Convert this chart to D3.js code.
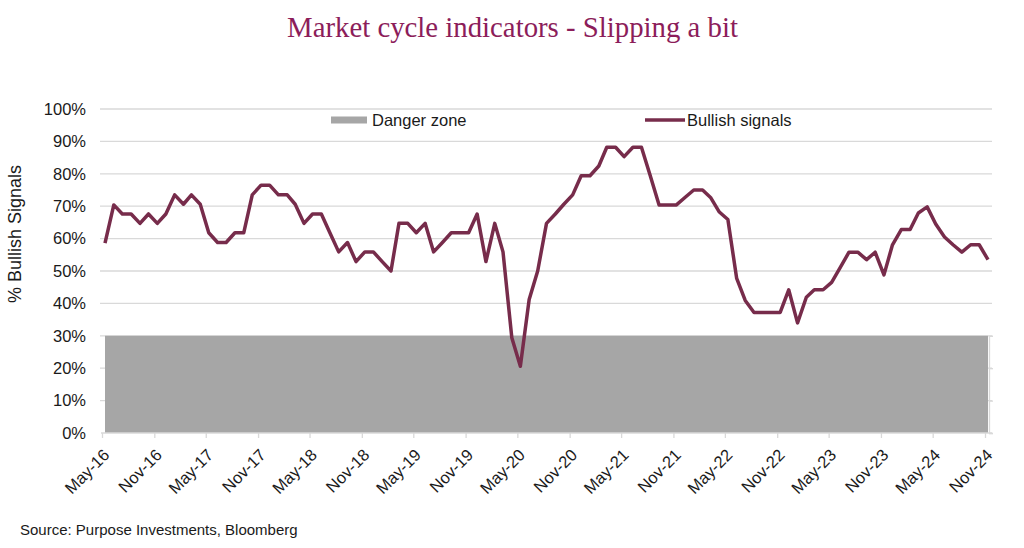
<!DOCTYPE html>
<html>
<head>
<meta charset="utf-8">
<script src="https://cdn.jsdelivr.net/npm/d3@7"></script>
<style>
  html, body { margin: 0; padding: 0; background: #ffffff; }
  svg { display: block; }
</style>
</head>
<body>
<svg id="chart" width="1024" height="548"></svg>
<script>
// ---- Data ----
const startMonth = "2016-05"; // first monthly observation (May-16)
const bullishSignals = [
  58.6, 70.4, 67.6, 67.6, 64.7, 67.6, 64.7, 67.6, 73.5, 70.6,
  73.5, 70.6, 61.8, 58.8, 58.8, 61.8, 61.8, 73.5, 76.5, 76.5,
  73.5, 73.5, 70.6, 64.7, 67.6, 67.6, 61.8, 55.9, 58.8, 52.9,
  55.9, 55.9, 52.9, 50.0, 64.7, 64.7, 61.8, 64.7, 55.9, 58.8,
  61.8, 61.8, 61.8, 67.6, 52.9, 64.7, 55.9, 29.4, 20.6, 41.2,
  50.0, 64.7, 67.6, 70.6, 73.5, 79.4, 79.4, 82.4, 88.2, 88.2,
  85.3, 88.2, 88.2, 79.4, 70.4, 70.4, 70.4, 72.7, 75.0, 75.0,
  72.7, 68.2, 65.9, 47.7, 40.9, 37.2, 37.2, 37.2, 37.2, 44.2,
  34.0, 41.9, 44.2, 44.2, 46.5, 51.2, 55.8, 55.8, 53.5, 55.8,
  48.8, 58.1, 62.8, 62.8, 67.9, 69.8, 64.5, 60.5, 58.1, 55.8,
  58.1, 58.1, 53.5
];
const dangerZone = 30;
const yTicks = [0, 10, 20, 30, 40, 50, 60, 70, 80, 90, 100];
const xTickLabels = ["May-16","Nov-16","May-17","Nov-17","May-18","Nov-18","May-19","Nov-19",
  "May-20","Nov-20","May-21","Nov-21","May-22","Nov-22","May-23","Nov-23","May-24","Nov-24"];

const titleText = "Market cycle indicators - Slipping a bit";
const yTitle = "% Bullish Signals";
const sourceText = "Source: Purpose Investments,  Bloomberg";
const legendLabels = ["Danger zone", "Bullish signals"];

// ---- Setup ----
const svg = d3.select("#chart");
const parseMonth = d3.timeParse("%Y-%m");
const parseTick = d3.timeParse("%b-%y");
const start = parseMonth(startMonth);
const dates = bullishSignals.map((v, i) => d3.timeMonth.offset(start, i));
const data = bullishSignals.map((v, i) => ({ date: dates[i], value: v }));

const plot = { left: 105, right: 988, top: 109, bottom: 433 };
const x = d3.scaleTime().domain([dates[0], dates[dates.length - 1]]).range([plot.left, plot.right]);
const y = d3.scaleLinear().domain([0, 100]).range([plot.bottom, plot.top]);

const gridColor = "#d9d9d9";
const textColor = "#1a1a1a";
const font = "'Liberation Sans', Arial, sans-serif";

// Title
const title = svg.append("text")
  .attr("x", 512.5).attr("y", 37)
  .attr("text-anchor", "middle")
  .attr("font-family", "'Liberation Serif', 'DejaVu Serif', serif")
  .attr("font-size", 26)
  .attr("fill", "#8c1d5a")
  .text(titleText);
const tw = title.node().getComputedTextLength();
title.attr("font-size", 26 * 451 / tw);

// Gridlines
svg.append("g").selectAll("line").data(yTicks.filter(d => d > 0)).join("line")
  .attr("x1", 100).attr("x2", 992)
  .attr("y1", d => y(d)).attr("y2", d => y(d))
  .attr("stroke", gridColor).attr("stroke-width", 1.3);

// Danger zone area
svg.append("rect")
  .attr("x", x(dates[0])).attr("y", y(dangerZone))
  .attr("width", x(dates[dates.length - 1]) - x(dates[0]))
  .attr("height", y(0) - y(dangerZone))
  .attr("fill", "#a6a6a6");

// Right secondary axis fragment
const rightAxis = d3.axisRight(d3.scaleLinear().domain([0, dangerZone]).range([y(0), y(dangerZone)]))
  .tickValues([0, 10, 20, 30]).tickSize(4).tickFormat("");
const ra = svg.append("g").attr("transform", `translate(${plot.right + 1},0)`).call(rightAxis);
ra.selectAll("path, line").attr("stroke", gridColor).attr("stroke-width", 1.3);

// Y axis labels
const yAxis = d3.axisLeft(y).tickValues(yTicks).tickSize(0).tickPadding(0).tickFormat(d => d + "%");
const ya = svg.append("g").attr("transform", "translate(86,0)").call(yAxis);
ya.select(".domain").remove();
ya.selectAll("text").attr("font-family", font).attr("font-size", 16.5).attr("fill", textColor);

// X axis
const tickDates = xTickLabels.map(parseTick);
const xAxis = d3.axisBottom(x).tickValues(tickDates).tickSize(5).tickFormat(d3.timeFormat("%b-%y"));
const xa = svg.append("g").attr("transform", `translate(-3,${plot.bottom})`).call(xAxis);
xa.select(".domain").attr("d", `M${plot.left - 1},0H${plot.right + 7}`).attr("stroke", gridColor).attr("stroke-width", 1.3);
xa.selectAll(".tick line").attr("stroke", gridColor).attr("stroke-width", 1.3);
xa.selectAll(".tick text")
  .attr("font-family", font).attr("font-size", 16.5).attr("fill", textColor)
  .attr("text-anchor", "end")
  .attr("x", 0).attr("y", 0).attr("dy", "0.35em")
  .attr("transform", "translate(4,19) rotate(-45)");

// Line
const line = d3.line().x(d => x(d.date)).y(d => y(d.value));
svg.append("path").datum(data)
  .attr("d", line)
  .attr("fill", "none")
  .attr("stroke", "#772c4b")
  .attr("stroke-width", 3.5)
  .attr("stroke-linejoin", "round");

// Legend
const lg = svg.append("g");
lg.append("rect").attr("x", 331).attr("y", 116.5).attr("width", 36).attr("height", 7).attr("fill", "#a6a6a6");
lg.append("text").attr("x", 372).attr("y", 120).attr("dy", "0.35em")
  .attr("font-family", font).attr("font-size", 16.5).attr("fill", textColor).text(legendLabels[0]);
lg.append("line").attr("x1", 645).attr("x2", 685).attr("y1", 120).attr("y2", 120)
  .attr("stroke", "#772c4b").attr("stroke-width", 3.5);
lg.append("text").attr("x", 687).attr("y", 120).attr("dy", "0.35em")
  .attr("font-family", font).attr("font-size", 16.5).attr("fill", textColor).text(legendLabels[1]);

// Y axis title
svg.append("text")
  .attr("transform", "translate(21,234) rotate(-90)")
  .attr("text-anchor", "middle")
  .attr("font-family", font).attr("font-size", 18).attr("fill", textColor)
  .text(yTitle);

// Source
svg.append("text").attr("x", 20).attr("y", 535)
  .attr("font-family", font).attr("font-size", 15).attr("fill", textColor)
  .text(sourceText);
</script>
</body>
</html>
